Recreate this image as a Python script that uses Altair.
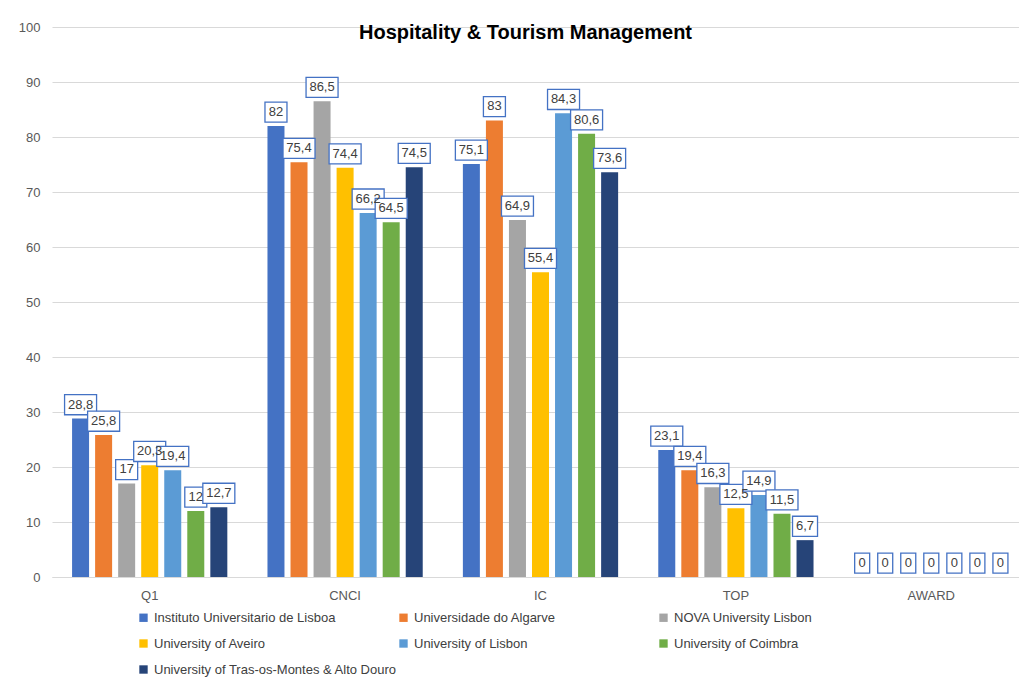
import altair as alt
import pandas as pd

metrics = ["Q1", "CNCI", "IC", "TOP", "AWARD"]
universities = [
    "Instituto Universitario de Lisboa",
    "Universidade do Algarve",
    "NOVA University Lisbon",
    "University of Aveiro",
    "University of Lisbon",
    "University of Coimbra",
    "University of Tras-os-Montes & Alto Douro",
]
colors = ["#4472C4", "#ED7D31", "#A5A5A5", "#FFC000", "#5B9BD5", "#70AD47", "#264478"]

q1 = [28.8, 25.8, 17, 20.3, 19.4, 12, 12.7]
cnci = [82, 75.4, 86.5, 74.4, 66.2, 64.5, 74.5]
ic = [75.1, 83, 64.9, 55.4, 84.3, 80.6, 73.6]
top = [23.1, 19.4, 16.3, 12.5, 14.9, 11.5, 6.7]
award = [0, 0, 0, 0, 0, 0, 0]

series = {"Q1": q1, "CNCI": cnci, "IC": ic, "TOP": top, "AWARD": award}
rows = []
for m in metrics:
    for u, v in zip(universities, series[m]):
        rows.append({"metric": m, "uni": u, "value": v,
                     "label": f"{v:g}".replace(".", ",")})
df = pd.DataFrame(rows)

FONT = "Liberation Sans"

x = alt.X("metric:N", sort=metrics, title=None,
          scale=alt.Scale(paddingInner=0, paddingOuter=0),
          axis=alt.Axis(labelAngle=0, ticks=False, domain=True, domainColor="#d9d9d9",
                        labelColor="#595959", labelFontSize=13, labelPadding=12, labelFont=FONT))
xo = alt.XOffset("uni:N", sort=universities,
                 scale=alt.Scale(paddingInner=0.24, paddingOuter=0.86))
yscale = alt.Scale(domain=[0, 100])

base = alt.Chart(df)

bars = base.mark_bar(size=17).encode(
    x=x,
    xOffset=xo,
    y=alt.Y("value:Q", scale=yscale, title=None,
            axis=alt.Axis(values=list(range(0, 101, 10)), ticks=False, domain=False,
                          gridColor="#d9d9d9", labelColor="#595959", labelFontSize=13,
                          labelPadding=12, labelFont=FONT)),
    color=alt.Color("uni:N", sort=universities,
                    scale=alt.Scale(domain=universities, range=colors),
                    legend=alt.Legend(title=None, orient="none", legendX=85, legendY=584,
                                      columns=3, direction="horizontal", gridAlign="all",
                                      columnPadding=-4, rowPadding=12,
                                      symbolType="square", symbolSize=70, symbolStrokeWidth=0,
                                      labelFontSize=13, labelColor="#404040", labelFont=FONT,
                                      labelLimit=400)),
)

boxes = base.transform_calculate(
    lo="datum.value + 0.7",
    hi="datum.value + 4.35",
    bw="length(datum.label) * 7 + 8 - (indexof(datum.label, ',') >= 0 ? 4 : 0)",
).mark_bar(fill="white", stroke="#4472C4", strokeWidth=1.3).encode(
    x=x, xOffset=xo,
    y=alt.Y("lo:Q", scale=yscale), y2="hi:Q",
    size=alt.Size("bw:Q", scale=None, legend=None),
)

texts = base.transform_calculate(mid="datum.value + 2.55").mark_text(
    fontSize=13, color="#404040", font=FONT, baseline="middle"
).encode(
    x=x, xOffset=xo,
    y=alt.Y("mid:Q", scale=yscale),
    text="label:N",
)

chart = alt.layer(bars, boxes, texts).properties(
    width=977, height=550,
    title=alt.TitleParams("Hospitality & Tourism Management", fontSize=20, fontWeight="bold",
                          font=FONT, color="#000000", offset=-22, dx=-15, anchor="middle"),
    autosize=alt.AutoSizeParams(type="none"),
    padding={"left": 44, "top": 19, "right": -10, "bottom": 100},
).configure_view(stroke=None)

chart.save("out.html", embed_options={"renderer": "svg", "actions": False})
